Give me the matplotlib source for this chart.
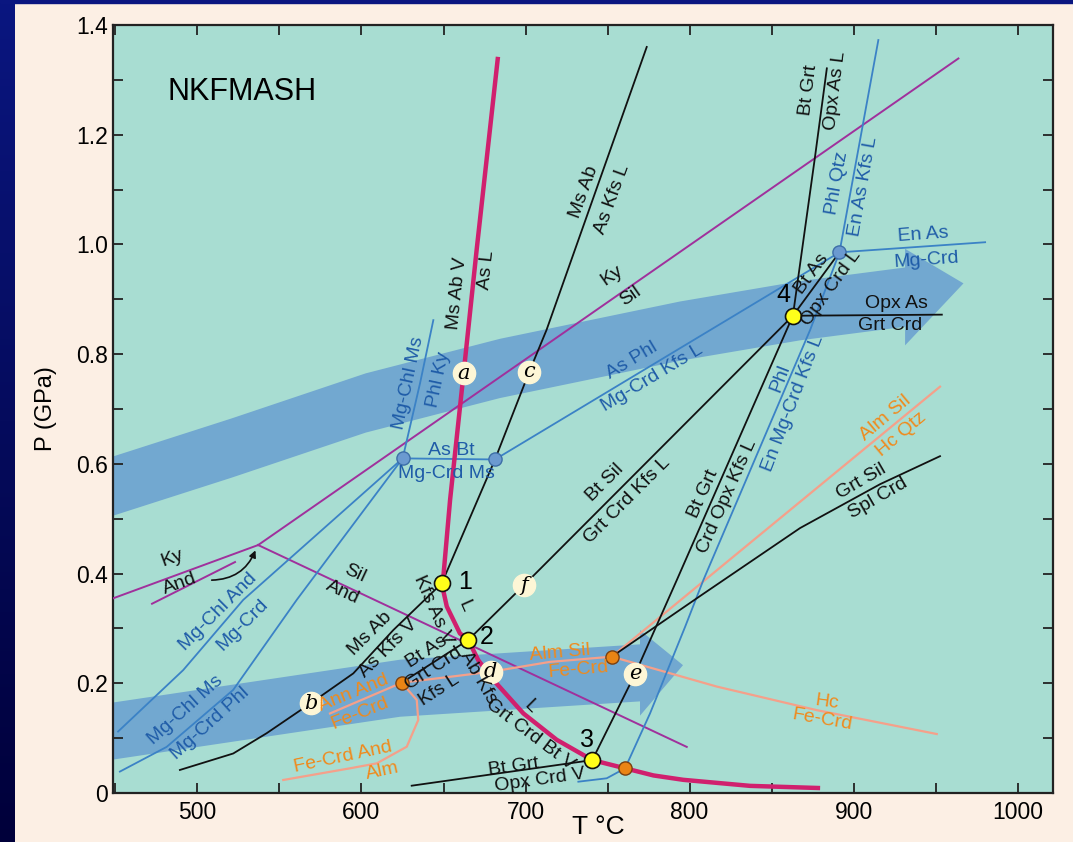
import numpy as np
import matplotlib.pyplot as plt
from matplotlib.colors import LinearSegmentedColormap
from matplotlib.patches import Polygon

plt.rcParams['font.family'] = ['Liberation Sans', 'DejaVu Sans']

# ---- points (T in degC, P in GPa) ----
inv_lab = ["1", "2", "3", "4"]
inv_T = [648.9, 665.1, 740.7, 863.0]
inv_P = [0.382, 0.279, 0.060, 0.870]

fe_T = [624.5, 752.6, 760.7]
fe_P = [0.201, 0.2485, 0.045]

mg_T = [625.1, 681.4, 891.4]
mg_P = [0.610, 0.608, 0.9856]

let_lab = ["a", "b", "c", "d", "e", "f"]
let_T = [662.5, 569.0, 702.3, 678.8, 766.8, 699.1]
let_P = [0.765, 0.1635, 0.768, 0.221, 0.217, 0.379]

# ---- wet melting curve (thick) ----
melt_T = [683.2, 670.2, 663.1, 654.0, 649.9, 648.9, 652.0, 660.0, 665.1, 671.2,
          680.4, 698.7, 719.0, 740.7, 760.7, 778.0, 796.2, 836.9, 879.6]
melt_P = [1.342, 0.990, 0.789, 0.534, 0.394, 0.382, 0.340, 0.291, 0.279, 0.242,
          0.206, 0.145, 0.097, 0.060, 0.045, 0.032, 0.024, 0.013, 0.009]

# ---- aluminosilicate reactions ----
ky_and_T = [448.7, 537.0]
ky_and_P = [0.355, 0.452]
ky_and2_T = [472.3, 522.9]
ky_and2_P = [0.345, 0.421]
ky_sil_T = [537.0, 963.9]
ky_sil_P = [0.452, 1.339]
and_sil_T = [537.0, 798.3]
and_sil_P = [0.452, 0.084]

# ---- black (KFMASH) reactions ----
msab_L_T = [648.9, 681.4, 702.3, 712.8, 773.9]
msab_L_P = [0.382, 0.608, 0.768, 0.844, 1.360]
msab_V_T = [648.9, 619.4, 595.0, 569.0, 542.2, 521.8, 489.3]
msab_V_P = [0.382, 0.297, 0.218, 0.1635, 0.109, 0.072, 0.042]
btsil_T = [665.1, 699.1, 863.0]
btsil_P = [0.279, 0.379, 0.870]
btas_T = [665.1, 624.5]
btas_P = [0.279, 0.201]
btgrt_L_T = [740.7, 766.8, 792.2, 863.0]
btgrt_L_P = [0.060, 0.217, 0.388, 0.870]
btgrt_asL_T = [863.0, 876.5, 883.7]
btgrt_asL_P = [0.870, 1.160, 1.321]
opxas_T = [863.0, 953.8]
opxas_P = [0.870, 0.872]
btas_opx_T = [863.0, 891.4]
btas_opx_P = [0.870, 0.9856]
grtsil_T = [752.6, 806.4, 867.4, 916.2, 952.7]
grtsil_P = [0.2485, 0.359, 0.483, 0.563, 0.614]
btgrt_V_T = [630.6, 740.7]
btgrt_V_P = [0.0133, 0.060]

# ---- salmon (FMASH) reactions ----
almsil_hc_T = [752.6, 952.7]
almsil_hc_P = [0.2485, 0.7407]
fecrd_T = [580.8, 624.5, 678.8, 714.9, 752.6, 816.6, 877.6, 950.7]
fecrd_P = [0.145, 0.201, 0.221, 0.239, 0.2485, 0.194, 0.151, 0.1075]
fecrd_alm_T = [624.5, 633.7, 634.6, 627.6, 609.3, 593.0, 552.3]
fecrd_alm_P = [0.201, 0.1695, 0.133, 0.0844, 0.054, 0.045, 0.0237]

# ---- blue (MASH) reactions ----
phl_en_T = [732.2, 749.5, 760.7, 775.9, 797.3, 808.4, 873.5, 891.4, 915.1]
phl_en_P = [0.0206, 0.0268, 0.045, 0.145, 0.303, 0.388, 0.844, 0.9856, 1.3726]
asphl_T = [681.4, 891.4]
asphl_P = [0.608, 0.9856]
asbt_T = [625.1, 681.4]
asbt_P = [0.610, 0.608]
phlky_T = [625.1, 635.7, 643.8]
phlky_P = [0.610, 0.747, 0.862]
enas_T = [891.4, 980.2]
enas_P = [0.9856, 1.004]
chl_and_T = [451.6, 491.3, 527.9, 625.1]
chl_and_P = [0.112, 0.224, 0.352, 0.610]
chl_ms_T = [452.7, 481.2, 521.8, 560.5, 625.1]
chl_ms_P = [0.039, 0.084, 0.188, 0.352, 0.610]

# ---- P-T path arrows (centre line) ----
hi_path_T = [448.7, 521.0, 602.6, 684.5, 794.2, 867.0, 931.4]
hi_path_P = [0.5596, 0.629, 0.711, 0.774, 0.842, 0.879, 0.904]
hi_tip = (967.0, 0.929)
lo_path_T = [448.7, 623.5, 769.8]
lo_path_P = [0.113, 0.191, 0.219]
lo_tip = (796.0, 0.233)

BLUE = "#3b82c6"
BLUE_TXT = "#1f5ca8"
ORANGE_TXT = "#f08a1c"
SALMON = "#f5a08a"
BLACK = "#111111"
MAGENTA = "#d0206e"
PURPLE = "#a0309c"

fig = plt.figure(figsize=(10.73, 8.42), dpi=100)
fig.patch.set_facecolor("#fcefe4")

# dark frame on the left and top
bg = fig.add_axes([0, 0, 1, 1], zorder=-5)
bg.set_xlim(0, 1)
bg.set_ylim(0, 1)
bg.axis("off")
navy = LinearSegmentedColormap.from_list("navy", ["#00003a", "#0a1680"])
grad = np.linspace(0, 1, 256).reshape(-1, 1)
bg.imshow(grad, extent=[0, 15 / 1073, 0, 1], origin="lower", aspect="auto", cmap=navy)
bg.axhspan(1 - 3 / 842, 1, color="#0a1680")

ax = fig.add_axes([0.1056, 0.0582, 0.8758, 0.9121])
ax.set_facecolor("#a8ddd2")
ax.set_xlim(448.7, 1021.6)
ax.set_ylim(0, 1.4)


def arrow_band(T, P, hw, head_hw, tip, color):
    T = np.asarray(T)
    P = np.asarray(P)
    pts = list(zip(T, P + hw))
    pts += [(T[-1], P[-1] + head_hw), tip, (T[-1], P[-1] - head_hw)]
    pts += list(zip(T[::-1], (P - hw)[::-1]))
    ax.add_patch(Polygon(pts, closed=True, facecolor=color, edgecolor="none", zorder=1))


arrow_band(hi_path_T, hi_path_P, 0.054, 0.088, hi_tip, "#72a8d0")
arrow_band(lo_path_T, lo_path_P, 0.052, 0.078, lo_tip, "#72a8d0")

# reaction curves
for T, P in [(ky_and_T, ky_and_P), (ky_and2_T, ky_and2_P), (ky_sil_T, ky_sil_P),
             (and_sil_T, and_sil_P)]:
    ax.plot(T, P, color=PURPLE, lw=1.4, zorder=3)

for T, P in [(almsil_hc_T, almsil_hc_P), (fecrd_T, fecrd_P), (fecrd_alm_T, fecrd_alm_P)]:
    ax.plot(T, P, color=SALMON, lw=1.6, zorder=3)

for T, P in [(phl_en_T, phl_en_P), (asphl_T, asphl_P), (asbt_T, asbt_P),
             (phlky_T, phlky_P), (enas_T, enas_P), (chl_and_T, chl_and_P),
             (chl_ms_T, chl_ms_P)]:
    ax.plot(T, P, color=BLUE, lw=1.3, zorder=3)

for T, P in [(msab_L_T, msab_L_P), (msab_V_T, msab_V_P), (btsil_T, btsil_P),
             (btas_T, btas_P), (btgrt_L_T, btgrt_L_P), (btgrt_asL_T, btgrt_asL_P),
             (opxas_T, opxas_P), (btas_opx_T, btas_opx_P), (grtsil_T, grtsil_P),
             (btgrt_V_T, btgrt_V_P)]:
    ax.plot(T, P, color=BLACK, lw=1.3, zorder=4)

ax.plot(melt_T, melt_P, color=MAGENTA, lw=3.2, zorder=5, solid_capstyle="butt")

# curved pointer to the triple point
ax.annotate("", xy=(536.0, 0.447), xytext=(507.0, 0.388),
            arrowprops=dict(arrowstyle="-|>", color=BLACK, lw=1.2,
                            connectionstyle="arc3,rad=0.35", mutation_scale=10),
            zorder=4)

# point symbols
ax.plot(mg_T, mg_P, "o", ms=9.5, mfc="#6b9ad0", mec="#3d6ea8", mew=1.0, zorder=6)
ax.plot(fe_T, fe_P, "o", ms=9.5, mfc="#ea8414", mec="#7a4010", mew=1.0, zorder=6)
ax.plot(inv_T, inv_P, "o", ms=11.5, mfc="#ffff1a", mec=BLACK, mew=1.2, zorder=7)
ax.plot(let_T, let_P, "o", ms=16, mfc="#fdf6d6", mec="#fdf6d6", zorder=6)
for lab, T, P in zip(let_lab, let_T, let_P):
    ax.text(T, P, lab, family="DejaVu Serif", style="italic", fontsize=15,
            ha="center", va="center", zorder=8)

inv_text = [("1", 663.1, 0.385), ("2", 676.3, 0.285), ("3", 737.7, 0.097), ("4", 857.2, 0.908)]
for lab, T, P in inv_text:
    ax.text(T, P, lab, fontsize=18, ha="center", va="center", zorder=8)

# reaction labels: text, T, P, rotation, colour
labels = [
    ("Ms Ab V", 658.2, 0.910, 84, BLACK), ("As L", 676.5, 0.953, 84, BLACK),
    ("Ms Ab", 735.7, 1.096, 70, BLACK), ("As Kfs L", 752.6, 1.082, 70, BLACK),
    ("Ky", 752.6, 0.944, 35, BLACK), ("Sil", 763.7, 0.905, 35, BLACK),
    ("Bt Grt", 872.4, 1.281, 83, BLACK), ("Opx As L", 888.7, 1.281, 83, BLACK),
    ("Phl Qtz", 889.8, 1.111, 80, BLUE_TXT), ("En As Kfs L", 906.0, 1.105, 80, BLUE_TXT),
    ("En As", 942.6, 1.017, 4, BLUE_TXT), ("Mg-Crd", 944.6, 0.972, 4, BLUE_TXT),
    ("Bt As", 874.5, 0.947, 54, BLACK), ("Opx Crd L", 886.7, 0.920, 54, BLACK),
    ("Opx As", 926.3, 0.893, 0, BLACK), ("Grt Crd", 922.3, 0.853, 0, BLACK),
    ("Mg-Chl Ms", 628.5, 0.747, 78, BLUE_TXT), ("Phl Ky", 646.8, 0.753, 78, BLUE_TXT),
    ("As Phl", 764.8, 0.788, 31, BLUE_TXT), ("Mg-Crd Kfs L", 777.3, 0.756, 31, BLUE_TXT),
    ("As Bt", 655.0, 0.625, 0, BLUE_TXT), ("Mg-Crd Ms", 652.0, 0.583, 0, BLUE_TXT),
    ("Phl", 855.2, 0.756, 69, BLUE_TXT), ("En Mg-Crd Kfs L", 863.3, 0.710, 69, BLUE_TXT),
    ("Bt Sil", 748.5, 0.565, 45, BLACK), ("Grt Crd Kfs L", 761.7, 0.534, 45, BLACK),
    ("Bt Grt", 808.4, 0.546, 66, BLACK), ("Crd Opx Kfs L", 822.7, 0.540, 66, BLACK),
    ("Alm Sil", 919.2, 0.683, 40, ORANGE_TXT), ("Hc Qtz", 929.4, 0.653, 40, ORANGE_TXT),
    ("Grt Sil", 905.0, 0.568, 30, BLACK), ("Spl Crd", 915.1, 0.537, 30, BLACK),
    ("Ky", 484.3, 0.428, 20, BLACK), ("And", 489.3, 0.382, 20, BLACK),
    ("Sil", 596.0, 0.401, -25, BLACK), ("And", 588.7, 0.365, -25, BLACK),
    ("Mg-Chl And", 512.5, 0.330, 45, BLUE_TXT), ("Mg-Crd", 527.6, 0.306, 45, BLUE_TXT),
    ("Mg-Chl Ms", 492.4, 0.151, 42, BLUE_TXT), ("Mg-Crd Phl", 507.6, 0.127, 42, BLUE_TXT),
    ("Kfs As V", 643.8, 0.334, -66, BLACK), ("L", 663.1, 0.340, -66, BLACK),
    ("Ms Ab", 605.2, 0.290, 45, BLACK), ("As Kfs V", 616.2, 0.264, 45, BLACK),
    ("Bt As", 639.8, 0.258, 33, BLACK), ("Grt Crd", 643.8, 0.227, 33, BLACK),
    ("Kfs L", 647.5, 0.188, 33, BLACK),
    ("Ab Kfs", 671.0, 0.210, -60, BLACK), ("Grt Crd Bt V", 703.0, 0.106, -37, BLACK),
    ("L", 702.7, 0.157, -45, BLACK),
    ("Alm Sil", 721.0, 0.255, 5, ORANGE_TXT), ("Fe-Crd", 732.2, 0.224, 5, ORANGE_TXT),
    ("Ann And", 595.0, 0.182, 22, ORANGE_TXT), ("Fe-Crd", 599.1, 0.145, 22, ORANGE_TXT),
    ("Hc", 883.7, 0.166, -8, ORANGE_TXT), ("Fe-Crd", 880.6, 0.133, -10, ORANGE_TXT),
    ("Fe-Crd And", 588.9, 0.066, 12, ORANGE_TXT), ("Alm", 613.0, 0.040, 12, ORANGE_TXT),
    ("Bt Grt", 692.6, 0.048, 8, BLACK), ("Opx Crd V", 708.8, 0.024, 8, BLACK),
]
for txt, T, P, rot, col in labels:
    ax.text(T, P, txt, fontsize=14, color=col, rotation=rot, rotation_mode="anchor",
            ha="center", va="center", zorder=8)

ax.text(482.0, 1.278, "NKFMASH", fontsize=22, ha="left", va="center")

# axes styling
ax.set_xticks([500, 600, 700, 800, 900, 1000])
ax.set_xticks(np.arange(450, 1001, 50), minor=True)
ax.set_yticks(np.arange(0, 1.41, 0.2))
ax.set_yticks(np.arange(0, 1.41, 0.1), minor=True)
ax.set_yticklabels(["0", "0.2", "0.4", "0.6", "0.8", "1.0", "1.2", "1.4"])
ax.tick_params(which="both", direction="in", top=True, right=True,
               length=7.5, width=1.3, color="#222222", labelsize=16.5)
ax.tick_params(axis="y", pad=4)
ax.tick_params(axis="x", pad=6)
for s in ax.spines.values():
    s.set_linewidth(1.6)
    s.set_color("#222222")

ax.set_xlabel("T °C", fontsize=19)
ax.xaxis.label.set_va("center")
ax.xaxis.set_label_coords(0.516, -0.044)
ax.set_ylabel("P (GPa)", fontsize=17)
ax.yaxis.label.set_va("center")
ax.yaxis.set_label_coords(-0.072, 0.5)

fig.savefig("out.png", dpi=100, facecolor=fig.get_facecolor())
